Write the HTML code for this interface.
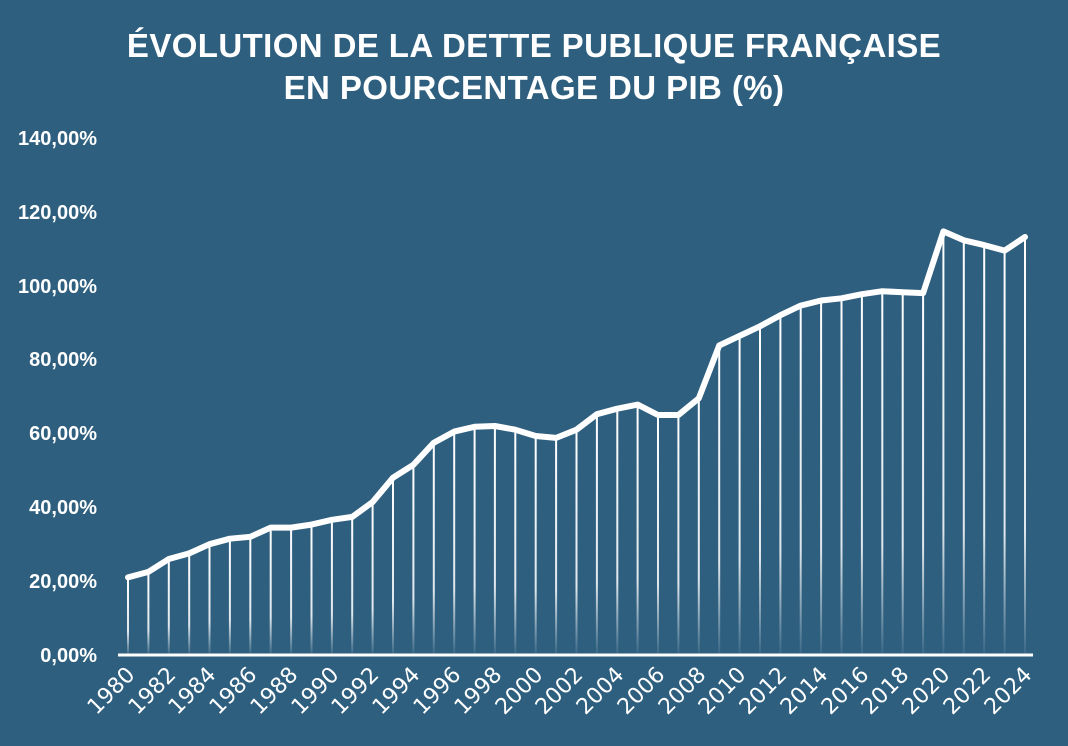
<!DOCTYPE html>
<html><head><meta charset="utf-8"><style>
html,body{margin:0;padding:0;background:#2e5f7f;}
svg{display:block;}
</style></head><body>
<svg id="c" width="1068" height="746" xmlns="http://www.w3.org/2000/svg">
<defs><linearGradient id="g" x1="0" y1="0" x2="0" y2="1" gradientUnits="objectBoundingBox">
<stop offset="0" stop-color="#fff" stop-opacity="1"/><stop offset="0.7" stop-color="#fff" stop-opacity="0.85"/><stop offset="1" stop-color="#fff" stop-opacity="0.05"/></linearGradient></defs>
<rect width="1068" height="746" fill="#2e5f7f"/>
<g font-family="Liberation Sans, sans-serif" font-weight="bold" fill="#fff" font-size="33" text-anchor="middle" letter-spacing="0.4">
<text x="534" y="57">ÉVOLUTION DE LA DETTE PUBLIQUE FRANÇAISE</text>
<text x="534" y="99">EN POURCENTAGE DU PIB (%)</text>
</g>
<g font-family="Liberation Sans, sans-serif" font-weight="bold" fill="#fff" font-size="20" text-anchor="end">
<text x="97" y="662">0,00%</text>
<text x="97" y="588">20,00%</text>
<text x="97" y="514">40,00%</text>
<text x="97" y="440">60,00%</text>
<text x="97" y="366">80,00%</text>
<text x="97" y="293">100,00%</text>
<text x="97" y="219">120,00%</text>
<text x="97" y="145">140,00%</text>
</g>
<g id="drops"></g>
<line x1="118" y1="655" x2="1033" y2="655" stroke="#fff" stroke-width="3"/>
<polyline id="pl" fill="none" stroke="#fff" stroke-width="6" stroke-linejoin="round" stroke-linecap="round" points=""/>
<g font-family="DejaVu Sans, sans-serif" fill="#fff" font-size="22" text-anchor="end">
<text transform="translate(136,676) rotate(-45)">1980</text>
<text transform="translate(177,676) rotate(-45)">1982</text>
<text transform="translate(217,676) rotate(-45)">1984</text>
<text transform="translate(258,676) rotate(-45)">1986</text>
<text transform="translate(299,676) rotate(-45)">1988</text>
<text transform="translate(340,676) rotate(-45)">1990</text>
<text transform="translate(380,676) rotate(-45)">1992</text>
<text transform="translate(421,676) rotate(-45)">1994</text>
<text transform="translate(462,676) rotate(-45)">1996</text>
<text transform="translate(503,676) rotate(-45)">1998</text>
<text transform="translate(544,676) rotate(-45)">2000</text>
<text transform="translate(584,676) rotate(-45)">2002</text>
<text transform="translate(625,676) rotate(-45)">2004</text>
<text transform="translate(666,676) rotate(-45)">2006</text>
<text transform="translate(707,676) rotate(-45)">2008</text>
<text transform="translate(747,676) rotate(-45)">2010</text>
<text transform="translate(788,676) rotate(-45)">2012</text>
<text transform="translate(829,676) rotate(-45)">2014</text>
<text transform="translate(870,676) rotate(-45)">2016</text>
<text transform="translate(910,676) rotate(-45)">2018</text>
<text transform="translate(951,676) rotate(-45)">2020</text>
<text transform="translate(992,676) rotate(-45)">2022</text>
<text transform="translate(1033,676) rotate(-45)">2024</text>
</g>
</svg>
<script>
var v=[21,22.5,26,27.5,30,31.5,32,34.5,34.5,35.3,36.6,37.4,41.4,48,51.5,57.5,60.5,61.8,62,61,59.3,58.8,61,65.2,66.7,67.8,65,65,69.5,83.8,86.4,89,92,94.6,96,96.6,97.7,98.5,98.2,98,114.7,112.3,111,109.5,113.2];
var ns="http://www.w3.org/2000/svg",pts=[],d=document.getElementById('drops');
for(var i=0;i<v.length;i++){var x=128+i*20.386,y=655-v[i]*3.693;pts.push(x.toFixed(1)+','+y.toFixed(1));
var r=document.createElementNS(ns,'rect');r.setAttribute('x',(x-1).toFixed(1));r.setAttribute('y',y.toFixed(1));r.setAttribute('width','2');r.setAttribute('height',(655-y).toFixed(1));r.setAttribute('fill','url(#g)');d.appendChild(r);}
document.getElementById('pl').setAttribute('points',pts.join(' '));
</script>
</body></html>
